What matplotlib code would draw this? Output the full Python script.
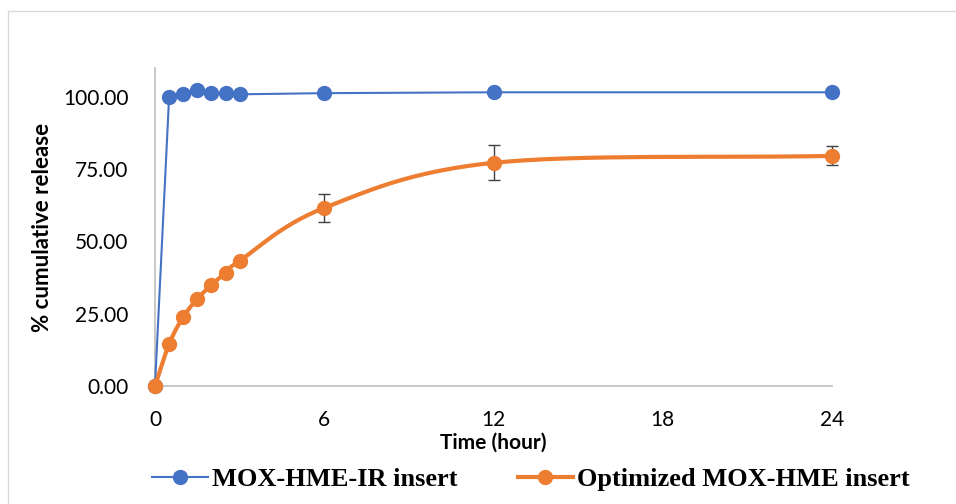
import numpy as np
import matplotlib
matplotlib.use("Agg")
import matplotlib.pyplot as plt
from matplotlib.patches import Rectangle

# release data
time_h = [0, 0.5, 1, 1.5, 2, 2.5, 3, 6, 12, 24]
ir_release = [0, 100.0, 101.0, 102.4, 101.2, 101.3, 100.9, 101.3, 101.6, 101.6]
opt_release = [0, 14.5, 23.9, 30.1, 35.0, 39.1, 43.3, 61.6, 77.2, 79.6]
opt_err = [0, 0, 0, 0, 0, 0, 0, 4.7, 6.0, 3.3]

x_ticks = [0, 6, 12, 18, 24]
y_ticks = [0, 25, 50, 75, 100]

blue = '#4472C4'
orange = '#ED7D31'


def smooth(x, y, n=30):
    # catmull-rom, roughly what excel does for "smoothed line"
    x = np.asarray(x, float)
    y = np.asarray(y, float)
    px = np.concatenate([[2 * x[0] - x[1]], x, [2 * x[-1] - x[-2]]])
    py = np.concatenate([[2 * y[0] - y[1]], y, [2 * y[-1] - y[-2]]])
    xs, ys = [], []
    for i in range(1, len(px) - 2):
        t = np.linspace(0, 1, n)
        bx = [px[i], px[i] + (px[i + 1] - px[i - 1]) / 6,
              px[i + 1] - (px[i + 2] - px[i]) / 6, px[i + 1]]
        by = [py[i], py[i] + (py[i + 1] - py[i - 1]) / 6,
              py[i + 1] - (py[i + 2] - py[i]) / 6, py[i + 1]]
        for b, out in ((bx, xs), (by, ys)):
            out.extend((1 - t) ** 3 * b[0] + 3 * (1 - t) ** 2 * t * b[1]
                       + 3 * (1 - t) * t ** 2 * b[2] + t ** 3 * b[3])
    return np.array(xs), np.array(ys)


fig = plt.figure(figsize=(9.56, 5.04), dpi=100)
fig.patches.append(Rectangle((8 / 956, -0.1), 1.2, (504 - 11) / 504 + 0.1,
                             transform=fig.transFigure, fill=False,
                             edgecolor='#d9d9d9', linewidth=1))
ax = fig.add_axes([155 / 956, (504 - 386) / 504, (832 - 155) / 956, (386 - 68) / 504])

ax.plot(time_h, ir_release, color=blue, lw=1.5, marker='o', ms=10,
        label='MOX-HME-IR insert', zorder=3, clip_on=False)

sx, sy = smooth(time_h, opt_release)
ax.plot(sx, sy, color=orange, lw=3, zorder=4, clip_on=False)
ax.errorbar(time_h[7:], opt_release[7:], yerr=opt_err[7:], fmt='none',
            ecolor='#404040', elinewidth=1, capsize=4, capthick=1, zorder=5, clip_on=False)
ax.plot(time_h, opt_release, ls='none', marker='o', ms=10, color=orange, zorder=6, clip_on=False)
ax.plot([], [], color=orange, lw=3, marker='o', ms=10, label='Optimized MOX-HME insert')

ax.set_xlim(0, 24)
ax.set_ylim(0, 110)
ax.set_xticks(x_ticks)
ax.set_yticks(y_ticks)
ax.set_yticklabels(['%.2f' % v for v in y_ticks])
ax.tick_params(length=0, labelsize=15)
ax.tick_params(axis='x', pad=17)
ax.tick_params(axis='y', pad=19)
for lab in ax.get_xticklabels() + ax.get_yticklabels():
    lab.set_family('Lato')

for s in ['top', 'right']:
    ax.spines[s].set_visible(False)
for s in ['left', 'bottom']:
    ax.spines[s].set_color('#bfbfbf')
    ax.spines[s].set_linewidth(1.2)

ax.set_xlabel('Time (hour)', fontsize=15, fontweight='bold', family='Lato', labelpad=2)
ax.set_ylabel('% cumulative release', fontsize=16, fontweight='bold', family='Lato', labelpad=7)

leg = fig.legend(loc='center', bbox_to_anchor=(531 / 956, (504 - 479) / 504),
                 ncol=2, frameon=False, handlelength=2.1, handletextpad=0.15,
                 columnspacing=2.3,
                 prop={'family': 'Liberation Serif', 'weight': 'bold', 'size': 19})

fig.savefig('out.png', dpi=100)
